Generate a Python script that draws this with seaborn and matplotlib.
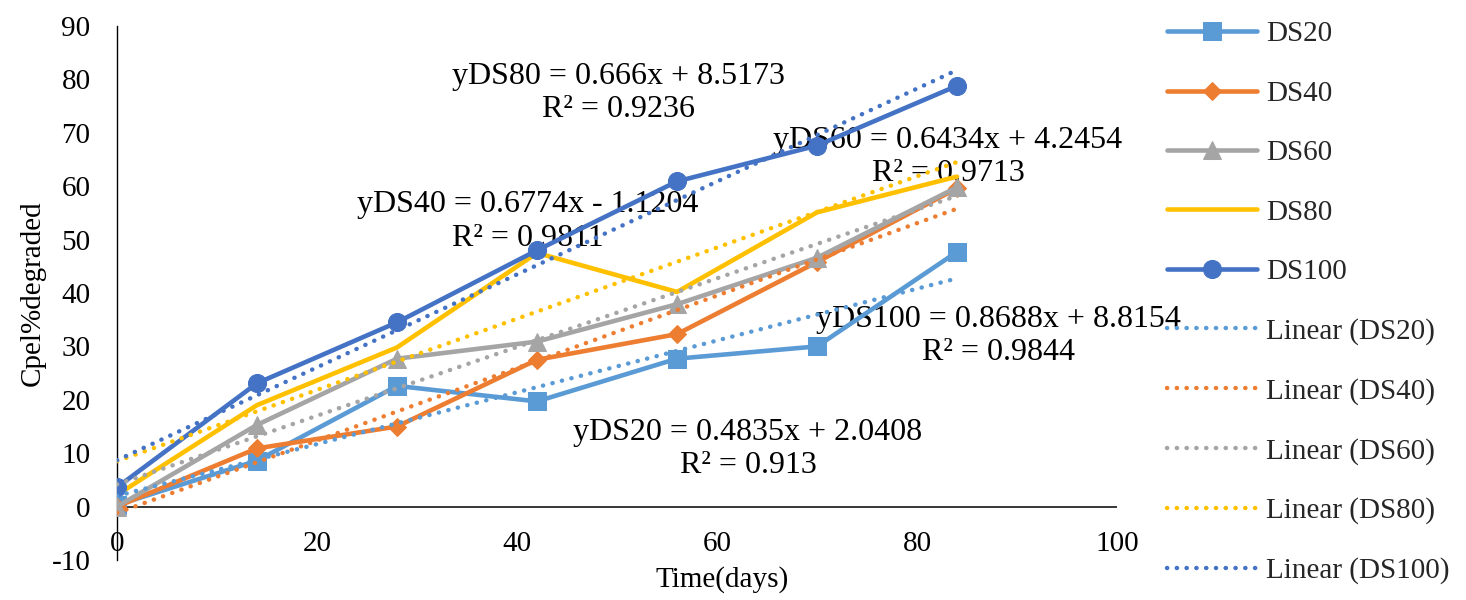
import numpy as np
import pandas as pd
import matplotlib
matplotlib.use("Agg")
import matplotlib.pyplot as plt
import seaborn as sns

# ---- data ----
days = [0, 14, 28, 42, 56, 70, 84]
ds20 = [0.3, 8.6, 22.6, 19.7, 27.7, 30.0, 47.7]
ds40 = [0.0, 10.9, 15.0, 27.5, 32.3, 45.8, 59.6]
ds60 = [0.0, 15.3, 27.7, 30.9, 37.9, 46.6, 59.8]
ds80 = [2.2, 19.0, 29.8, 47.5, 40.2, 55.1, 61.8]
ds100 = [3.6, 23.1, 34.5, 48.0, 60.9, 67.6, 78.8]

series_names = ["DS20", "DS40", "DS60", "DS80", "DS100"]
series_values = [ds20, ds40, ds60, ds80, ds100]
colors = ["#5B9BD5", "#ED7D31", "#A5A5A5", "#FFC000", "#4472C4"]
markers = ["s", "D", "^", None, "o"]
marker_sizes = [12.5, 9.5, 13, 0, 13]

# equation labels (as printed on the chart) and their positions
eq_texts = [
    "yDS80 = 0.666x + 8.5173\nR² = 0.9236",
    "yDS60 = 0.6434x + 4.2454\nR² = 0.9713",
    "yDS40 = 0.6774x - 1.1204\nR² = 0.9811",
    "yDS100 = 0.8688x + 8.8154\nR² = 0.9844",
    "yDS20 = 0.4835x + 2.0408\nR² = 0.913",
]
eq_x = [50.1, 83.1, 41.1, 88.1, 63.1]
eq_y = [77.5, 65.5, 53.4, 31.9, 10.8]

xticks = [0, 20, 40, 60, 80, 100]
yticks = [-10, 0, 10, 20, 30, 40, 50, 60, 70, 80, 90]

sns.set_theme(style="white")
plt.rcParams["font.family"] = ["Liberation Serif", "DejaVu Serif"]
plt.rcParams["axes.unicode_minus"] = False
FS = 21
FS_EQ = 23

fig = plt.figure(figsize=(14.66, 6.0), dpi=100)
ax = fig.add_axes([117 / 1466, 40 / 600, 1000 / 1466, 534 / 600])

for name, vals, c, m, ms in zip(series_names, series_values, colors, markers, marker_sizes):
    df = pd.DataFrame({"x": days, "y": vals})
    kw = dict(marker=m, markersize=ms, markeredgecolor=c, markerfacecolor=c) if m else {}
    sns.lineplot(data=df, x="x", y="y", ax=ax, color=c, lw=3.3, label=name,
                 solid_capstyle="round", zorder=3, **kw)

for name, vals, c in zip(series_names, series_values, colors):
    df = pd.DataFrame({"x": days, "y": vals})
    sns.regplot(data=df, x="x", y="y", ax=ax, scatter=False, ci=None, color=c,
                label=f"Linear ({name})",
                line_kws=dict(ls=(0, (0.05, 2.15)), lw=3.2, dash_capstyle="round", zorder=4))

for t, x, y in zip(eq_texts, eq_x, eq_y):
    ax.text(x, y, t, ha="center", va="center", multialignment="center",
            fontsize=FS_EQ, linespacing=1.2, color="black", zorder=2.5)

ax.set_xlim(0, 100)
ax.set_ylim(-10, 90)
ax.set_xticks(xticks)
ax.set_yticks(yticks)
ax.tick_params(axis="x", length=0, pad=-21, labelsize=FS, colors="black")
ax.tick_params(axis="y", length=0, pad=19, labelsize=FS, colors="black")

for s in ["top", "right", "bottom"]:
    ax.spines[s].set_visible(False)
ax.spines["left"].set_color("black")
ax.spines["left"].set_linewidth(1.0)
ax.axhline(0, color="black", lw=1.1, zorder=2)

ax.set_xlabel("Time(days)", fontsize=FS, color="black")
ax.set_ylabel("Cpel%degraded", fontsize=FS, color="black", labelpad=4)
ax.xaxis.set_label_coords(0.605, -0.012)

ax.legend(loc="upper left", bbox_to_anchor=(1167 / 1466, 1 - 21 / 600),
          bbox_transform=fig.transFigure, frameon=False, fontsize=FS,
          handlelength=3.1, handletextpad=0.3, labelspacing=1.13, borderpad=0,
          borderaxespad=0)

fig.savefig("out.png", dpi=100)
